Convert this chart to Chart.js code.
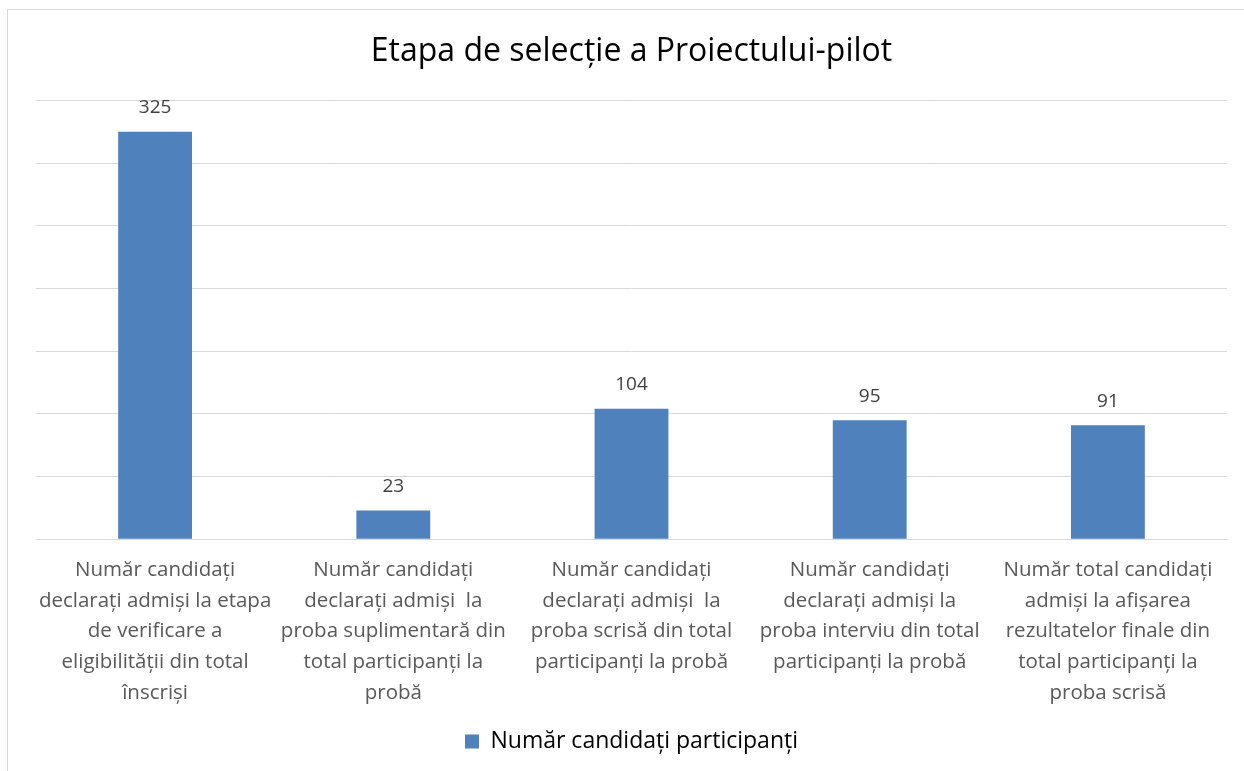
<!DOCTYPE html>
<html lang="ro">
<head>
  <meta charset="UTF-8" />
  <title>Etapa de selecție</title>
  <script src="https://cdn.jsdelivr.net/npm/chart.js"></script>
  <style>
    html, body { margin: 0; padding: 0; background: #fff; }
    #wrap {
      position: relative;
      width: 1244px;
      height: 771px;
      overflow: hidden;
    }
    #frame {
      position: absolute;
      left: 7px; top: 9px;
      width: 1300px; height: 800px;
      border: 1px solid #d9d9d9;
    }
    canvas { position: absolute; left: 0; top: 0; }
  </style>
</head>
<body>
<div id="wrap">
  <div id="frame"></div>
  <canvas id="selChart" width="1244" height="771"></canvas>
</div>

<script>
  const categories = [
    ["Număr candidați", "declarați admiși la etapa", "de verificare a", "eligibilității din total", "înscriși"],
    ["Număr candidați", "declarați admiși  la", "proba suplimentară din", "total participanți la", "probă"],
    ["Număr candidați", "declarați admiși  la", "proba scrisă din total", "participanți la probă"],
    ["Număr candidați", "declarați admiși la", "proba interviu din total", "participanți la probă"],
    ["Număr total candidați", "admiși la afișarea", "rezultatelor finale din", "total participanți la", "proba scrisă"]
  ];
  const participants = [325, 23, 104, 95, 91];
  const seriesName = "Număr candidați participanți";

  // numbers above the bars
  const valueLabels = {
    id: 'valueLabels',
    afterDatasetsDraw(chart) {
      const ctx = chart.ctx;
      const meta = chart.getDatasetMeta(0);
      ctx.save();
      ctx.font = '19px "Open Sans"';
      ctx.fillStyle = '#404040';
      ctx.textAlign = 'center';
      ctx.textBaseline = 'middle';
      meta.data.forEach((bar, i) => {
        ctx.fillText(participants[i], bar.x, bar.y - 24);
      });
      ctx.restore();
    }
  };

  new Chart(document.getElementById('selChart'), {
    type: 'bar',
    data: {
      labels: categories,
      datasets: [{
        label: seriesName,
        data: participants,
        backgroundColor: '#4f81bd',
        categoryPercentage: 1,
        barPercentage: 0.31
      }]
    },
    options: {
      responsive: false,
      animation: false,
      layout: { padding: { left: 36, right: 17, top: 12, bottom: 8 } },
      plugins: {
        title: {
          display: true,
          text: 'Etapa de selecție a Proiectului-pilot',
          color: '#000',
          font: { family: '"Open Sans"', size: 32, weight: 'normal' },
          padding: { top: 21, bottom: 29 }
        },
        legend: {
          position: 'bottom',
          labels: {
            color: '#000',
            font: { family: '"Open Sans"', size: 23 },
            boxWidth: 14,
            boxHeight: 14,
            padding: 14
          }
        },
        tooltip: { enabled: false }
      },
      scales: {
        x: {
          grid: { display: false },
          border: { color: '#d9d9d9' },
          ticks: {
            color: '#595959',
            font: { family: '"Open Sans"', size: 20.5, lineHeight: 1.49 },
            maxRotation: 0,
            autoSkip: false,
            padding: 8
          }
        },
        y: {
          min: 0,
          max: 350,
          ticks: { display: false, stepSize: 50 },
          grid: { color: '#d9d9d9', drawTicks: false },
          border: { display: false }
        }
      }
    },
    plugins: [valueLabels]
  });
</script>
</body>
</html>
